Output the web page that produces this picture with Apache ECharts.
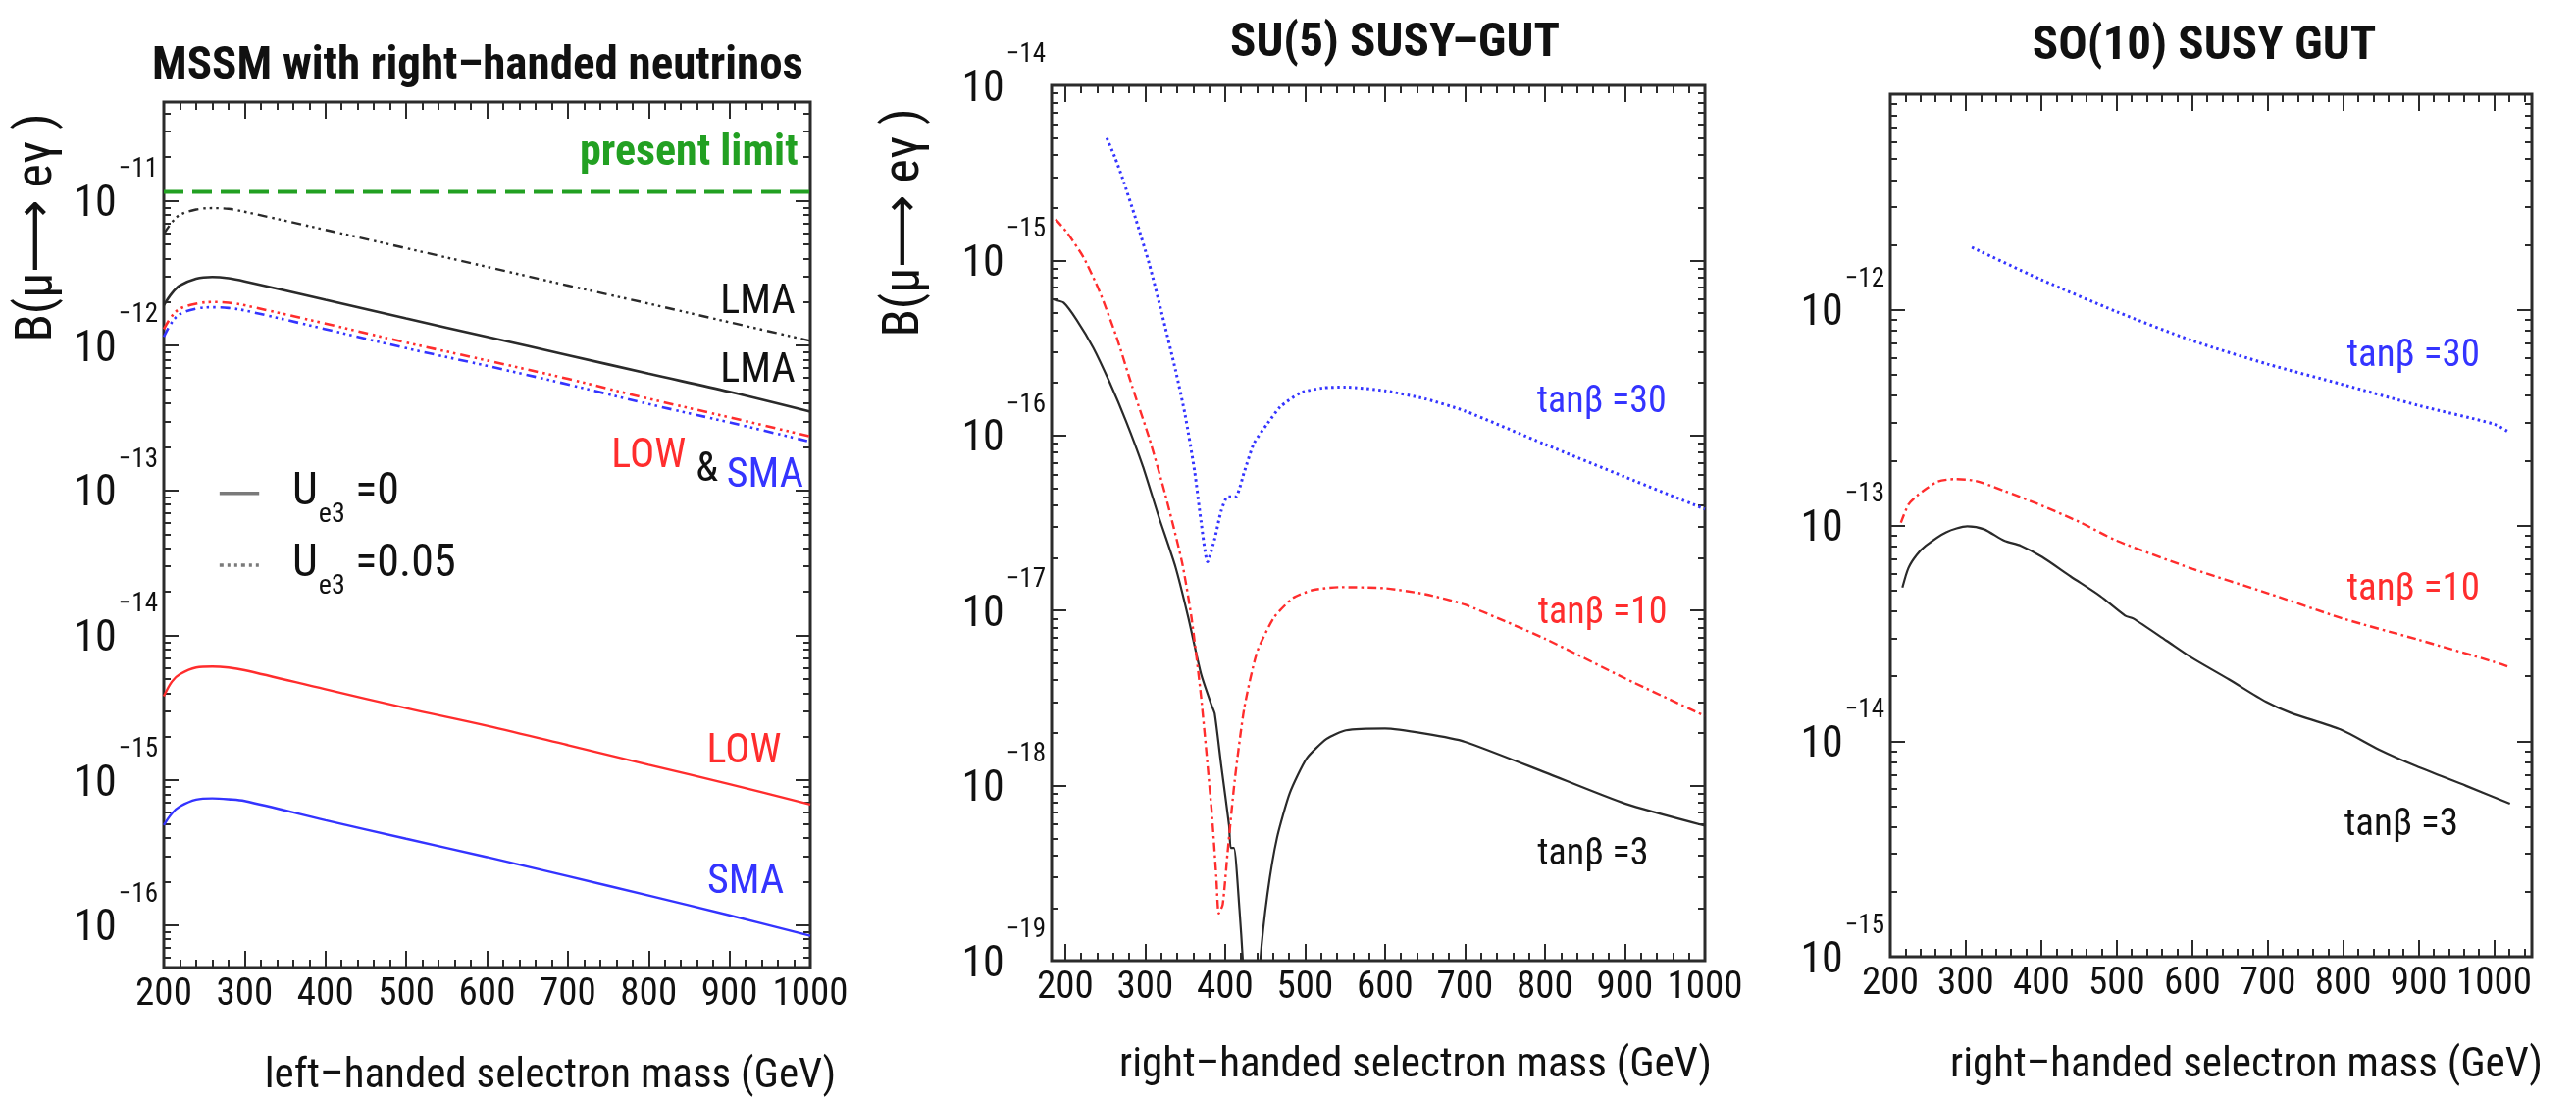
<!DOCTYPE html>
<html><head><meta charset="utf-8">
<script src="https://cdn.jsdelivr.net/npm/echarts@6/dist/echarts.min.js"></script>
<style>html,body{margin:0;padding:0;background:#fff}#c{width:2626px;height:1121px}</style>
</head><body><div id="c"></div>
<script>
// ================= DATA =================
// Panel 1 : MSSM with right-handed neutrinos (x = left-handed selectron mass, GeV)
const p1Mass      = [200, 210, 220, 240, 260, 280, 300, 400, 500, 600, 700, 800, 900, 1000];
const p1LmaUe305  = [5.9e-12, 7.1e-12, 8.0e-12, 8.7e-12, 8.9e-12, 8.8e-12, 8.4e-12, 6.3e-12, 4.7e-12, 3.5e-12, 2.6e-12, 1.95e-12, 1.45e-12, 1.08e-12];
const p1LmaUe30   = [1.9e-12, 2.3e-12, 2.6e-12, 2.9e-12, 2.98e-12, 2.92e-12, 2.78e-12, 2.07e-12, 1.54e-12, 1.15e-12, 8.6e-13, 6.4e-13, 4.8e-13, 3.5e-13];
const p1LowUe305  = [1.3e-12, 1.6e-12, 1.8e-12, 1.95e-12, 2.0e-12, 1.98e-12, 1.9e-12, 1.42e-12, 1.05e-12, 7.9e-13, 5.9e-13, 4.3e-13, 3.2e-13, 2.36e-13];
const p1SmaUe305  = [1.15e-12, 1.45e-12, 1.65e-12, 1.8e-12, 1.84e-12, 1.82e-12, 1.75e-12, 1.3e-12, 9.6e-13, 7.25e-13, 5.4e-13, 3.95e-13, 2.95e-13, 2.17e-13];
const p1LowUe30   = [3.8e-15, 4.8e-15, 5.4e-15, 6.0e-15, 6.1e-15, 6.0e-15, 5.75e-15, 4.25e-15, 3.15e-15, 2.38e-15, 1.75e-15, 1.28e-15, 9.4e-16, 6.8e-16];
const p1SmaUe30   = [4.9e-16, 5.9e-16, 6.6e-16, 7.35e-16, 7.5e-16, 7.4e-16, 7.2e-16, 5.3e-16, 3.95e-16, 2.95e-16, 2.18e-16, 1.6e-16, 1.17e-16, 8.45e-17];
const p1LimitMass = [200, 1000];
const p1Limit     = [1.15e-11, 1.15e-11];

// Panel 2 : SU(5) SUSY-GUT (x = right-handed selectron mass, GeV)
const p2Tb3Mass  = [186, 198, 214, 235, 255, 276, 297, 317, 338, 354, 370, 383, 387, 395, 405, 407, 411, 418, 422, 426, 440, 444, 453, 465, 481, 502, 527, 551, 600, 650, 700, 800, 900, 1000];
const p2Tb3      = [5.96e-16, 5.74e-16, 4.6e-16, 3.18e-16, 2.04e-16, 1.21e-16, 6.7e-17, 3.44e-17, 1.77e-17, 9.1e-18, 4.33e-18, 2.88e-18, 2.58e-18, 1.32e-18, 5.9e-19, 4.4e-19, 4.4e-19, 1.95e-19, 1.03e-19, 4e-20, 4e-20, 1.0e-19, 2.41e-19, 5.06e-19, 9.1e-19, 1.43e-18, 1.85e-18, 2.07e-18, 2.12e-18, 1.98e-18, 1.78e-18, 1.19e-18, 7.9e-19, 5.9e-19];
const p2Tb10Mass = [188, 202, 223, 243, 264, 284, 305, 325, 346, 358, 370, 383, 389, 392, 397, 403, 412, 424, 440, 461, 485, 510, 543, 600, 650, 700, 800, 900, 1000];
const p2Tb10     = [1.72e-15, 1.45e-15, 1.04e-15, 6.65e-16, 3.68e-16, 1.89e-16, 9.7e-17, 4.63e-17, 1.9e-17, 9.1e-18, 3.2e-18, 7.3e-19, 3.0e-19, 1.86e-19, 2.09e-19, 4.1e-19, 1.07e-18, 2.78e-18, 5.8e-18, 9.1e-18, 1.18e-17, 1.31e-17, 1.36e-17, 1.34e-17, 1.24e-17, 1.08e-17, 6.9e-18, 4.1e-18, 2.5e-18];
const p2Tb30Mass = [252, 262, 272, 288, 305, 321, 338, 350, 362, 370, 378, 387, 395, 403, 413, 424, 436, 453, 469, 494, 522, 551, 600, 650, 700, 800, 900, 1000];
const p2Tb30     = [5.0e-15, 3.9e-15, 2.92e-15, 1.74e-15, 9.6e-16, 4.95e-16, 2.36e-16, 1.31e-16, 6.2e-17, 3.2e-17, 1.9e-17, 2.57e-17, 3.7e-17, 4.46e-17, 4.46e-17, 6.2e-17, 9.0e-17, 1.17e-16, 1.46e-16, 1.75e-16, 1.87e-16, 1.89e-16, 1.80e-16, 1.62e-16, 1.38e-16, 8.9e-17, 5.8e-17, 3.8e-17];

// Panel 3 : SO(10) SUSY GUT (x = right-handed selectron mass, GeV)
const p3Tb3Mass  = [216, 224, 235, 247, 274, 302, 324, 351, 373, 401, 439, 478, 511, 522, 566, 599, 649, 698, 731, 797, 847, 897, 963, 1021];
const p3Tb3      = [5.15e-14, 6.35e-14, 7.3e-14, 8.05e-14, 9.3e-14, 9.9e-14, 9.6e-14, 8.5e-14, 8.05e-14, 7.15e-14, 5.8e-14, 4.71e-14, 3.82e-14, 3.7e-14, 2.92e-14, 2.44e-14, 1.93e-14, 1.52e-14, 1.35e-14, 1.13e-14, 9.15e-15, 7.65e-15, 6.2e-15, 5.13e-15];
const p3Tb10Mass = [214, 224, 235, 250, 263, 285, 313, 350, 395, 450, 500, 600, 700, 800, 900, 1000, 1021];
const p3Tb10     = [1.03e-13, 1.25e-13, 1.37e-13, 1.5e-13, 1.6e-13, 1.64e-13, 1.61e-13, 1.45e-13, 1.26e-13, 1.04e-13, 8.5e-14, 6.3e-14, 4.85e-14, 3.7e-14, 2.95e-14, 2.33e-14, 2.2e-14];
const p3Tb30Mass = [308, 400, 500, 600, 700, 800, 900, 1000, 1020];
const p3Tb30     = [1.95e-12, 1.38e-12, 9.8e-13, 7.2e-13, 5.6e-13, 4.5e-13, 3.6e-13, 2.95e-13, 2.7e-13];

// Tick values
const xMajorTicks = [200, 300, 400, 500, 600, 700, 800, 900, 1000];
const p1Decades = [1e-16, 1e-15, 1e-14, 1e-13, 1e-12, 1e-11];
const p2Decades = [1e-19, 1e-18, 1e-17, 1e-16, 1e-15, 1e-14];
const p3Decades = [1e-15, 1e-14, 1e-13, 1e-12];
const p3DecadeTicks = [1e-15, 1e-14, 1e-13, 1e-12, 1e-11];

// ================= FONTS =================
function measure(font, s) { const c = document.createElement('canvas').getContext('2d'); c.font = font; return c.measureText(s).width; }
function isNarrow(name) {
  const s = 'MSSM with right-handed neutrinos 0123456789';
  const ref = measure('40px "Liberation Sans", sans-serif', s);
  let ok = false;
  for (const fb of ['monospace', 'serif']) {
    const a = measure('40px ' + fb, s), b = measure('40px "' + name + '", ' + fb, s);
    if (Math.abs(a - b) > 0.5 && b < ref * 0.92) ok = true;
  }
  return ok;
}
const NARROW = ['Liberation Sans Narrow', 'Arial Narrow', 'Nimbus Sans Narrow', 'Roboto Condensed'].find(isNarrow);
const FF = NARROW ? '"' + NARROW + '", "Liberation Sans", "DejaVu Sans", sans-serif' : '"Liberation Sans", Arial, "DejaVu Sans", sans-serif';
const K = NARROW ? 1 : 0.86;
const fs = n => Math.round(n * K);

// ================= HELPERS =================
const AX = '#2b2b2b';
const BLACK = '#2a2a2a', RED = '#ff2d2d', BLUE = '#3434ff', GREEN = '#22a022';
function steps(a, b, s) { const r = []; for (let v = a; v <= b + 1e-9; v += s) r.push(Math.round(v)); return r; }
function logMinor(lo, hi) {
  const out = [];
  for (let e = Math.floor(Math.log10(lo)) - 1; e <= Math.ceil(Math.log10(hi)); e++)
    for (let k = 2; k <= 9; k++) { const v = k * Math.pow(10, e); if (v > lo * 1.0001 && v < hi * 0.9999) out.push(v); }
  return out;
}
function supLabel(v) {
  const e = Math.round(Math.log10(v));
  return '{b|10}{s|\u2212' + (-e) + '}';
}
function xAxes(g, c) {
  const base = { type: 'value', gridIndex: g, min: c.xmin, max: c.xmax, splitLine: { show: false }, axisLine: { show: false, onZero: false } };
  const tick = (vals, len) => ({ show: true, inside: true, length: len, customValues: vals, lineStyle: { color: AX, width: 2 } });
  const minor = steps(200, c.xmax, 20).filter(v => v % 100 !== 0 && v < c.xmax);
  return [
    Object.assign({}, base, { position: 'bottom', axisTick: tick(xMajorTicks, 17),
      axisLabel: { show: true, customValues: xMajorTicks, margin: c.xMargin, fontSize: fs(39), fontFamily: FF, color: '#111',
        formatter: v => String(Math.round(v)) } }),
    Object.assign({}, base, { position: 'bottom', axisTick: tick(minor, 8), axisLabel: { show: false } }),
    Object.assign({}, base, { position: 'top', axisTick: tick(xMajorTicks, 17), axisLabel: { show: false } }),
    Object.assign({}, base, { position: 'top', axisTick: tick(minor, 8), axisLabel: { show: false } })
  ];
}
function yAxes(g, c) {
  const base = { type: 'log', logBase: 10, gridIndex: g, min: c.ymin, max: c.ymax, splitLine: { show: false }, axisLine: { show: false, onZero: false } };
  const tick = (vals, len) => ({ show: true, inside: true, length: len, customValues: vals, lineStyle: { color: AX, width: 2 } });
  const minor = logMinor(c.ymin, c.ymax);
  return [
    Object.assign({}, base, { position: 'left', axisTick: tick(c.yTicks, 15),
      axisLabel: { show: true, customValues: c.yLabels, margin: 6, formatter: supLabel,
        rich: {
          b: { fontSize: fs(44), lineHeight: fs(53), verticalAlign: 'bottom', fontFamily: FF, color: '#111' },
          s: { fontSize: fs(27), lineHeight: fs(27), padding: [0, 0, fs(44), 2], verticalAlign: 'bottom', fontFamily: FF, color: '#111' }
        } } }),
    Object.assign({}, base, { position: 'left', axisTick: tick(minor, 7), axisLabel: { show: false } }),
    Object.assign({}, base, { position: 'right', axisTick: tick(c.yTicks, 15), axisLabel: { show: false } }),
    Object.assign({}, base, { position: 'right', axisTick: tick(minor, 7), axisLabel: { show: false } })
  ];
}
function line(g, xs, ys, color, dash, width, smooth) {
  return { type: 'line', xAxisIndex: g * 4, yAxisIndex: g * 4, data: xs.map((x, i) => [x, ys[i]]),
    symbol: 'none', showSymbol: false, smooth: smooth, clip: true, silent: true, z: 3,
    lineStyle: { color: color, width: width, type: dash } };
}

// ================= LAYOUT =================
const c1 = { xmin: 200, xmax: 1000, ymin: 5.1e-17, ymax: 4.8e-11, yTicks: p1Decades, yLabels: p1Decades, xMargin: 9 };
const c2 = { xmin: 183, xmax: 1000, ymin: 1e-19, ymax: 1e-14, yTicks: p2Decades, yLabels: p2Decades, xMargin: 9 };
const c3 = { xmin: 200, xmax: 1050, ymin: 1e-15, ymax: 1e-11, yTicks: p3DecadeTicks, yLabels: p3Decades, xMargin: 9 };
const gridBase = { show: true, borderColor: AX, borderWidth: 3, backgroundColor: 'transparent', containLabel: false };

const DDD = [10, 5, 2.5, 4, 2.5, 4, 2.5, 5];   // dash-dot-dot-dot
const DD = [9, 4, 2.5, 4];                     // dash-dot
const DOT = [2.5, 3.5];

const option = {
  animation: false,
  backgroundColor: '#ffffff',
  grid: [
    Object.assign({ left: 167, top: 104, width: 659, height: 882 }, gridBase),
    Object.assign({ left: 1072, top: 87, width: 666, height: 892 }, gridBase),
    Object.assign({ left: 1927, top: 96, width: 654, height: 879 }, gridBase)
  ],
  xAxis: [].concat(xAxes(0, c1), xAxes(1, c2), xAxes(2, c3)),
  yAxis: [].concat(yAxes(0, c1), yAxes(1, c2), yAxes(2, c3)),
  series: [
    line(0, p1LimitMass, p1Limit, GREEN, [20, 9], 4, false),
    line(0, p1Mass, p1LmaUe305, BLACK, DDD, 2.4, 0.35),
    line(0, p1Mass, p1LmaUe30, BLACK, 'solid', 2.6, 0.35),
    line(0, p1Mass, p1SmaUe305, BLUE, DDD, 2.6, 0.35),
    line(0, p1Mass, p1LowUe305, RED, DDD, 2.6, 0.35),
    line(0, p1Mass, p1LowUe30, RED, 'solid', 2.4, 0.35),
    line(0, p1Mass, p1SmaUe30, BLUE, 'solid', 2.4, 0.35),

    line(1, p2Tb3Mass, p2Tb3, BLACK, 'solid', 2.2, 0.2),
    line(1, p2Tb10Mass, p2Tb10, RED, DD, 2.4, 0.2),
    line(1, p2Tb30Mass, p2Tb30, BLUE, DOT, 3, 0.2),

    line(2, p3Tb3Mass, p3Tb3, BLACK, 'solid', 2.2, 0.25),
    line(2, p3Tb10Mass, p3Tb10, RED, DD, 2.4, 0.25),
    line(2, p3Tb30Mass, p3Tb30, BLUE, DOT, 3, 0.25)
  ]
};

const chart = echarts.init(document.getElementById('c'), null, { renderer: 'canvas', width: 2626, height: 1121 });
chart.setOption(option);

// ================= TEXT / ANNOTATIONS =================
const px = (g, x, y) => chart.convertToPixel({ xAxisIndex: g * 4, yAxisIndex: g * 4 }, [x, y]);
const G = [];
function txt(x, y, text, o) {
  o = o || {};
  G.push({ type: 'text', x: x, y: y, rotation: o.rot || 0, z: 100, silent: true,
    style: { text: text, fontFamily: FF, fontSize: fs(o.size || 40), fontWeight: o.weight || 'normal',
      fill: o.color || '#111', align: o.align || 'center', textAlign: o.align || 'center',
      verticalAlign: o.va || 'middle', textVerticalAlign: o.va || 'middle', rich: o.rich } });
}
function dtxt(g, x, y, text, o) { const p = px(g, x, y); txt(p[0], p[1], text, o); }

// titles
txt(487, 68, 'MSSM with right\u2013handed neutrinos', { size: 47, weight: 'bold' });
txt(1422, 45, 'SU(5) SUSY\u2013GUT', { size: 49, weight: 'bold' });
txt(2247, 48, 'SO(10) SUSY GUT', { size: 49, weight: 'bold' });
// axis titles
txt(561, 1097, 'left\u2013handed selectron mass (GeV)', { size: 43 });
txt(1443, 1086, 'right\u2013handed selectron mass (GeV)', { size: 43 });
txt(2290, 1086, 'right\u2013handed selectron mass (GeV)', { size: 43 });
txt(39, 232, 'B(\u03bc\u27f6 e\u03b3 )', { size: 52, rot: Math.PI / 2 });
txt(923, 227, 'B(\u03bc\u27f6 e\u03b3 )', { size: 52, rot: Math.PI / 2 });

// panel 1 annotations
dtxt(0, 985, Math.pow(10, -10.675), 'present limit', { size: 44, weight: 'bold', color: GREEN, align: 'right' });
dtxt(0, 935, Math.pow(10, -11.705), 'LMA', { size: 42 });
dtxt(0, 935, Math.pow(10, -12.179), 'LMA', { size: 42 });
dtxt(0, 800, Math.pow(10, -12.768), 'LOW', { size: 42, color: RED });
dtxt(0, 872, Math.pow(10, -12.863), '&', { size: 42 });
dtxt(0, 944, Math.pow(10, -12.904), 'SMA', { size: 42, color: BLUE });
dtxt(0, 918, Math.pow(10, -14.808), 'LOW', { size: 42, color: RED });
dtxt(0, 920, Math.pow(10, -15.709), 'SMA', { size: 42, color: BLUE });

// legend of panel 1
const legRich = {
  u: { fontSize: fs(46), lineHeight: fs(46), verticalAlign: 'top', fontFamily: FF, color: '#111' },
  e: { fontSize: fs(28), lineHeight: fs(28), padding: [fs(31), 0, 0, 1], verticalAlign: 'top', fontFamily: FF, color: '#111' }
};
[[Math.pow(10, -13.02), 'solid', ' =0'], [Math.pow(10, -13.515), [4, 4, 3, 4, 3, 4], ' =0.05']].forEach(function (it) {
  const a = px(0, 269, it[0]), b = px(0, 318, it[0]), t = px(0, 359, it[0]);
  G.push({ type: 'line', z: 100, silent: true, shape: { x1: a[0], y1: a[1], x2: b[0], y2: b[1] },
    style: { stroke: '#7a7a7a', lineWidth: 3.5, lineDash: it[1] === 'solid' ? null : it[1] } });
  txt(t[0], t[1] - fs(23), '{u|U}{e|e3}{u|' + it[2] + '}', { align: 'left', va: 'top', rich: legRich });
});

// panel 2 annotations
dtxt(1, 871, Math.pow(10, -15.816), 'tan\u03b2 =30', { size: 38, color: BLUE });
dtxt(1, 872, Math.pow(10, -17.021), 'tan\u03b2 =10', { size: 38, color: RED });
dtxt(1, 860, Math.pow(10, -18.395), 'tan\u03b2 =3', { size: 38, color: '#111' });
// panel 3 annotations
dtxt(2, 893, Math.pow(10, -12.218), 'tan\u03b2 =30', { size: 39, color: BLUE });
dtxt(2, 893, Math.pow(10, -13.297), 'tan\u03b2 =10', { size: 39, color: RED });
dtxt(2, 877, Math.pow(10, -14.39), 'tan\u03b2 =3', { size: 39, color: '#111' });

chart.setOption({ graphic: G });
</script>
</body></html>
